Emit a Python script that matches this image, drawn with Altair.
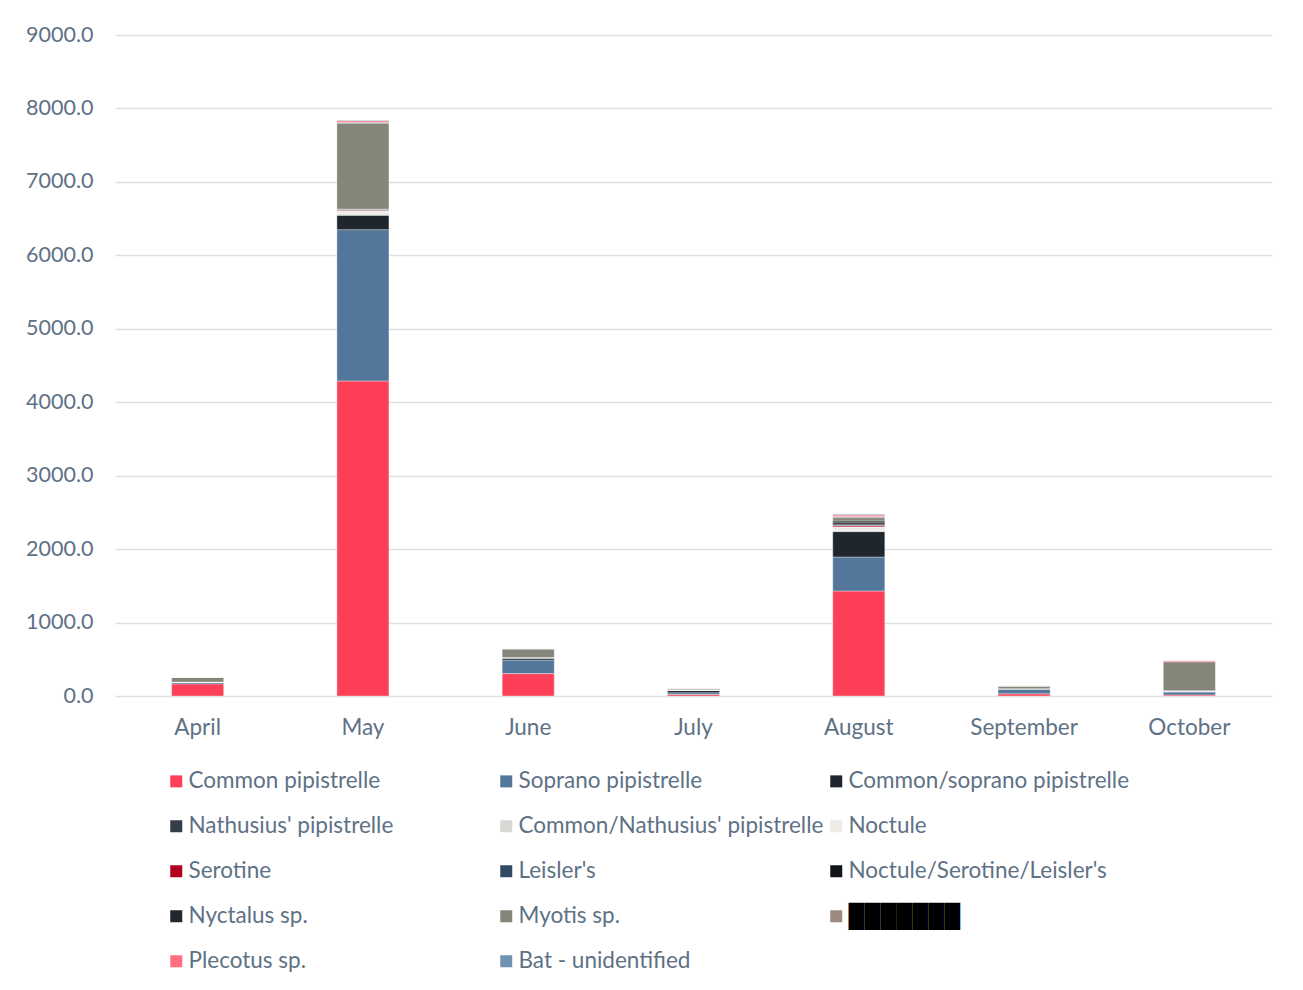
import altair as alt
import pandas as pd

months = ["April", "May", "June", "July", "August", "September", "October"]

REDACTED = "[redacted]"
species = [
    "Common pipistrelle", "Soprano pipistrelle", "Common/soprano pipistrelle",
    "Nathusius' pipistrelle", "Common/Nathusius' pipistrelle", "Noctule",
    "Serotine", "Leisler's", "Noctule/Serotine/Leisler's",
    "Nyctalus sp.", "Myotis sp.", REDACTED,
    "Plecotus sp.", "Bat - unidentified",
]
colors = [
    "#FD4057", "#52779A", "#1F262D",
    "#343E48", "#D8D8D5", "#EEEAE6",
    "#B2001F", "#2F4A62", "#111418",
    "#22272E", "#85857A", "#9C8A7E",
    "#FF6F7F", "#7193B3",
]

common_pip = [165, 4290, 305, 20, 1430, 30, 15]
soprano_pip = [20, 2060, 185, 25, 463, 65, 40]
common_soprano = [5, 195, 28, 30, 345, 5, 5]
nathusius = [0, 5, 0, 0, 5, 0, 0]
common_nathusius = [0, 15, 0, 0, 10, 0, 5]
noctule = [0, 40, 5, 5, 50, 0, 8]
serotine = [0, 10, 0, 0, 20, 0, 0]
leislers = [0, 5, 0, 0, 10, 0, 0]
noc_ser_lei = [0, 5, 0, 5, 25, 0, 0]
nyctalus = [0, 5, 0, 5, 25, 0, 0]
myotis = [65, 1170, 120, 12, 45, 30, 395]
redacted = [0, 12, 0, 0, 15, 10, 0]
plecotus = [0, 20, 0, 5, 20, 0, 15]
bat_unid = [0, 8, 0, 0, 12, 0, 0]

series = [common_pip, soprano_pip, common_soprano, nathusius, common_nathusius,
          noctule, serotine, leislers, noc_ser_lei, nyctalus, myotis, redacted,
          plecotus, bat_unid]

rows = []
for si, (name, vals) in enumerate(zip(species, series)):
    for m, v in zip(months, vals):
        rows.append({"Month": m, "Species": name, "Value": v, "Order": si})
df = pd.DataFrame(rows)

TXT = "#5E7185"
FONT = "Lato"

chart = alt.Chart(df).mark_bar(stroke="white", strokeWidth=0.6, strokeOpacity=0.6).encode(
    x=alt.X("Month:N", sort=months, title=None,
            scale=alt.Scale(paddingInner=0.685, paddingOuter=0.3425),
            axis=alt.Axis(labelAngle=0, ticks=False, domain=False, labelPadding=20,
                          labelFont=FONT, labelFontSize=22.5, labelColor=TXT)),
    y=alt.Y("Value:Q", stack="zero", title=None,
            scale=alt.Scale(domain=[0, 9000], nice=False),
            axis=alt.Axis(values=list(range(0, 9001, 1000)), format=".1f",
                          ticks=False, domain=False, labelPadding=22,
                          labelFont=FONT, labelFontSize=21.5, labelColor=TXT,
                          gridColor="#DCE0E5", gridWidth=1.6)),
    color=alt.Color("Species:N", sort=species,
                    scale=alt.Scale(domain=species, range=colors),
                    legend=alt.Legend(
                        title=None, orient="none", legendX=50, legendY=735,
                        columns=3, direction="horizontal", gridAlign="all",
                        symbolType="square",
                        symbolSize=144, symbolStrokeWidth=0, labelOffset=1,
                        labelFont=FONT, labelFontSize=22.5, labelLimit=0,
                        labelColor=alt.ExprRef(f"datum.value == '{REDACTED}' ? '#000000' : '{TXT}'"),
                        labelExpr=f"datum.value == '{REDACTED}' ? '███████' : datum.label",
                        rowPadding=22, columnPadding=1)),
    order=alt.Order("Order:Q", sort="ascending"),
    tooltip=["Month", "Species", "Value"],
).properties(
    width=1157, height=661,
    padding={"left": 25, "top": 24, "right": 31, "bottom": 5},
).configure_view(stroke=None)

chart.save("out.html", embed_options={"renderer": "svg", "actions": False})
